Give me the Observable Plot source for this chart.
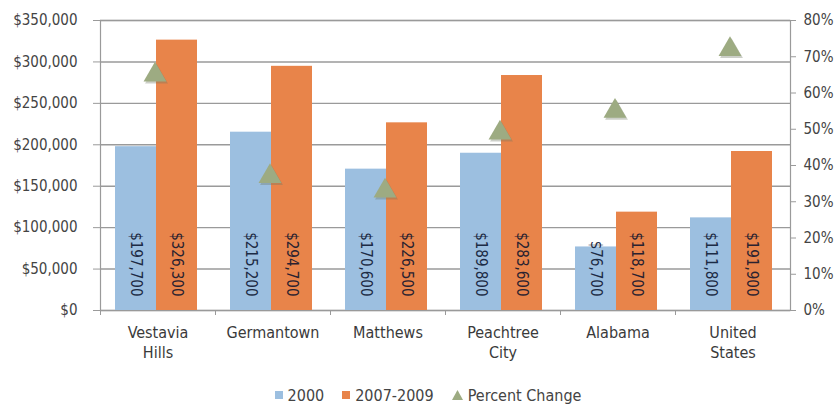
<!DOCTYPE html>
<html>
<head>
<meta charset="utf-8">
<script src="https://cdn.jsdelivr.net/npm/d3@7"></script>
<script src="https://cdn.jsdelivr.net/npm/@observablehq/plot@0.6"></script>
<style>
  html, body { margin: 0; padding: 0; background: #fff; }
  #chart { width: 836px; }
  .legend { display: flex; justify-content: center; align-items: center; height: 22px;
    font-family: "DejaVu Sans Condensed", "Liberation Sans Narrow", sans-serif; font-size: 16px; color: #444;
    padding-left: 20px; box-sizing: border-box; width: 836px; }
  .legend .item { display: flex; align-items: center; margin: 0 9px; }
  .legend .sw { width: 8px; height: 8px; margin-right: 5px; }
</style>
</head>
<body>
<div id="chart"></div>
<script>
const categories = ["Vestavia Hills", "Germantown", "Matthews", "Peachtree City", "Alabama", "United States"];
const value2000 = [197700, 215200, 170600, 189800, 76700, 111800];
const value2007 = [326300, 294700, 226500, 283600, 118700, 191900];
const pctChange = [65, 37, 33, 49, 55, 72];
const leftTicks = [0, 50000, 100000, 150000, 200000, 250000, 300000, 350000];
const rightTicks = [0, 10, 20, 30, 40, 50, 60, 70, 80];
const seriesNames = ["2000", "2007-2009", "Percent Change"];

const colors = { blue: "#9cbfe0", orange: "#e8844a", tri: "#9dab82" };
const yMax = 350000, pMax = 80;
const pToY = p => p * yMax / pMax;

const rows = categories.map((c, i) => ({ cat: c, v2000: value2000[i], v2007: value2007[i], pct: pctChange[i] }));
const money = d => "$" + d3.format(",")(d);
const font = '"DejaVu Sans Condensed", "Liberation Sans Narrow", sans-serif';

const chart = Plot.plot({
  width: 836,
  height: 384,
  marginTop: 20,
  marginBottom: 74,
  marginLeft: 100,
  marginRight: 46,
  style: { fontFamily: font, fontSize: "15px", background: "#fff" },
  x: { domain: categories, padding: 0, label: null, axis: null },
  y: { domain: [0, yMax], label: null, axis: null },
  marks: [
    Plot.gridY(leftTicks, { stroke: "#9a9a9a", strokeOpacity: 1, strokeWidth: 1.4 }),
    Plot.frame({ stroke: "#9a9a9a", strokeWidth: 1.2 }),
    Plot.barY(rows, { x: "cat", y: "v2000", fill: colors.blue, insetLeft: 15, insetRight: 59 }),
    Plot.barY(rows, { x: "cat", y: "v2007", fill: colors.orange, insetLeft: 56, insetRight: 18 }),
    Plot.text(rows, { x: "cat", y: 0, text: d => money(d.v2000), rotate: 90, textAnchor: "end", dx: -22, dy: -14, fontSize: 15, fill: "#1c2b45" }),
    Plot.text(rows, { x: "cat", y: 0, text: d => money(d.v2007), rotate: 90, textAnchor: "end", dx: 19, dy: -14, fontSize: 15, fill: "#2a2230" }),
    Plot.dot(rows, { x: "cat", y: d => pToY(d.pct), symbol: "triangle", r: 8.5, fill: "#6d7560", fillOpacity: 0.35, dx: -1.5, dy: 2 }),
    Plot.dot(rows, { x: "cat", y: d => pToY(d.pct), symbol: "triangle", r: 8.5, fill: colors.tri, dx: -3 }),
    Plot.axisY(leftTicks, { anchor: "left", tickSize: 7, tickPadding: 16, tickFormat: money, stroke: "#9a9a9a", fill: "#444", fontSize: 15 }),
    Plot.axisY(rightTicks.map(pToY), { anchor: "right", tickSize: 5, tickPadding: 8, tickFormat: d => Math.round(d * pMax / yMax) + "%", stroke: "#9a9a9a", fill: "#444", fontSize: 15 }),
    Plot.axisX(categories, { tickSize: 5, tickFormat: () => "", dx: -57.5, stroke: "#9a9a9a" }),
    Plot.axisX(categories, { tickSize: 0, tickPadding: 13, fontSize: 16, lineHeight: 1.25, fill: "#3a3a3a", tickFormat: d => d.replace(" ", "\n") })
  ]
});
document.getElementById("chart").appendChild(chart);

const legend = document.createElement("div");
legend.className = "legend";
const swatches = [
  `<span class="sw" style="background:${colors.blue}"></span>`,
  `<span class="sw" style="background:${colors.orange}"></span>`,
  `<svg width="11" height="10" style="margin-right:5px"><path d="M5.5,0L11,10L0,10Z" fill="${colors.tri}"/></svg>`
];
legend.innerHTML = seriesNames.map((n, i) => `<span class="item">${swatches[i]}<span>${n}</span></span>`).join("");
document.body.appendChild(legend);
</script>
</body>
</html>
